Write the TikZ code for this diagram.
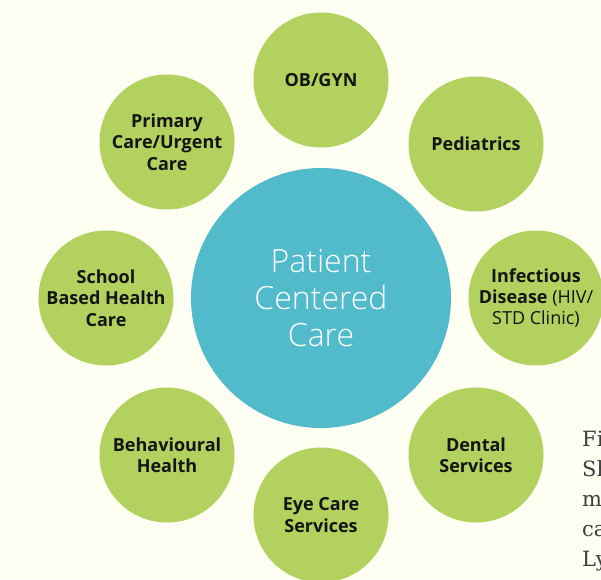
\documentclass[tikz,border=0pt]{standalone}
\usepackage{fontspec}
\setmainfont{Open Sans}
\newfontfamily\thinfont{Open Sans Light}
\newfontfamily\bookfont{DejaVu Serif}
\usetikzlibrary{positioning}

\definecolor{bgcream}{RGB}{254,254,242}
\definecolor{leafgreen}{RGB}{178,209,94}
\definecolor{tealblue}{RGB}{82,187,203}
\definecolor{inkgray}{RGB}{62,62,62}

\begin{document}
\begin{tikzpicture}[x=1pt,y=1pt,
  hub/.style={circle,fill=tealblue,minimum size=260pt,inner sep=0pt,text=white,
    align=center,font=\thinfont\fontsize{32}{36.7}\selectfont},
  spoke/.style={circle,fill=leafgreen,minimum size=135pt,inner sep=0pt,text=black!92,
    align=center,font=\bfseries\fontsize{18}{21.3}\selectfont},
  pagetext/.style={anchor=base west,inner sep=0pt,text=inkgray,
    font=\bookfont\fontsize{21}{25}\selectfont}]
  % page area
  \clip (0,0) rectangle (601,579);
  \fill[bgcream] (0,0) rectangle (601,579);
  % centre
  \node[hub] (pcc) at (321,281) {Patient\\Centered\\Care};
  % ring of services
  \node[spoke] (obgyn)   at (321,499) {OB/GYN};
  \node[spoke] (peds)    at (476,435) {Pediatrics};
  \node[spoke] (infect)  at (536,281) {Infectious\\Disease {\mdseries(HIV/}\\{\mdseries STD Clinic)}};
  \node[spoke] (dental)  at (476,124) {Dental\\Services};
  \node[spoke] (eyecare) at (321,64)  {Eye Care\\Services};
  \node[spoke] (behav)   at (167,124) {Behavioural\\Health};
  \node[spoke] (school)  at (106,281) {School\\Based Health\\Care};
  \node[spoke] (primary) at (167,437) {Primary\\Care/Urgent\\Care};
  % cut-off page text
  \foreach \txt [count=\i] in {Fi,Sh,m,ca,Ly}
    \node[pagetext] (note\i) at (582,{133-30.2*(\i-1)}) {\txt};
\end{tikzpicture}
\end{document}
